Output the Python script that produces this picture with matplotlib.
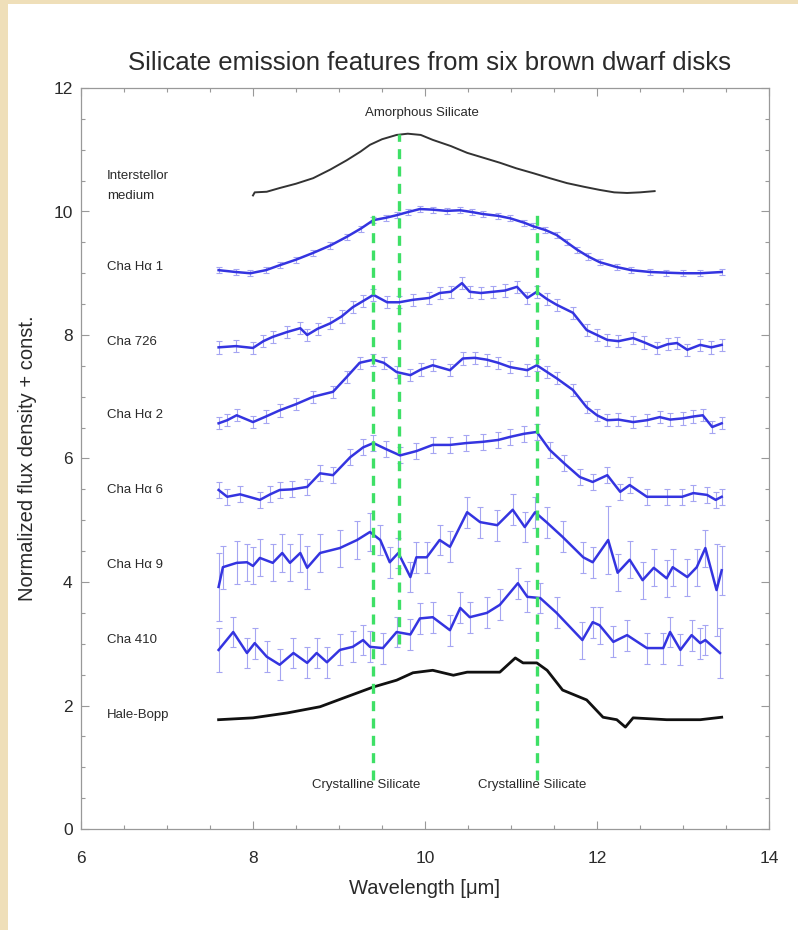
import matplotlib
matplotlib.use("Agg")
import matplotlib.pyplot as plt
from matplotlib.patches import Rectangle
from matplotlib.ticker import MultipleLocator

plt.rcParams['font.family'] = ['Liberation Sans', 'DejaVu Sans']

# ---------------- data ----------------
title = "Silicate emission features from six brown dwarf disks"
xlabel = "Wavelength [μm]"
ylabel = "Normalized flux density + const."
xticks = [6, 8, 10, 12, 14]
yticks = [0, 2, 4, 6, 8, 10, 12]

ism_x = [8.00, 8.02, 8.16, 8.31, 8.50, 8.70, 8.90, 9.09, 9.25, 9.36,
         9.50, 9.67, 9.80, 9.95, 10.09, 10.30, 10.49, 10.68, 10.87, 11.06,
         11.26, 11.45, 11.65, 11.85, 12.03, 12.20, 12.35, 12.50, 12.67]
ism_y = [10.26, 10.31, 10.32, 10.38, 10.45, 10.54, 10.68, 10.83, 10.97, 11.08,
         11.17, 11.24, 11.26, 11.24, 11.16, 11.06, 10.95, 10.87, 10.79, 10.70,
         10.62, 10.54, 10.46, 10.40, 10.35, 10.31, 10.30, 10.31, 10.33]

ha1_x = [7.60, 7.80, 7.97, 8.15, 8.31, 8.50, 8.70, 8.90, 9.09, 9.25,
         9.40, 9.55, 9.67, 9.80, 9.94, 10.09, 10.25, 10.41, 10.55, 10.67,
         10.85, 10.99, 11.15, 11.26, 11.40, 11.53, 11.65, 11.77, 11.90, 12.03,
         12.23, 12.40, 12.62, 12.80, 13.00, 13.20, 13.45]
ha1_y = [9.05, 9.02, 9.00, 9.05, 9.13, 9.22, 9.33, 9.45, 9.59, 9.72,
         9.86, 9.90, 9.94, 9.99, 10.04, 10.03, 10.01, 10.02, 9.99, 9.96,
         9.93, 9.89, 9.82, 9.76, 9.70, 9.62, 9.50, 9.38, 9.27, 9.18,
         9.10, 9.05, 9.02, 9.01, 9.00, 9.00, 9.02]
ha1_err = 0.05

c726_x = [7.60, 7.80, 8.00, 8.12, 8.23, 8.40, 8.55, 8.63, 8.75, 8.90,
          9.03, 9.16, 9.28, 9.40, 9.56, 9.70, 9.86, 10.05, 10.17, 10.30,
          10.43, 10.52, 10.65, 10.79, 10.93, 11.07, 11.19, 11.30, 11.42, 11.53,
          11.72, 11.88, 12.00, 12.12, 12.25, 12.42, 12.55, 12.70, 12.82, 12.93,
          13.05, 13.20, 13.33, 13.45]
c726_y = [7.80, 7.82, 7.79, 7.90, 7.97, 8.05, 8.11, 8.00, 8.10, 8.19,
          8.30, 8.45, 8.55, 8.65, 8.53, 8.53, 8.57, 8.60, 8.68, 8.70,
          8.84, 8.70, 8.68, 8.70, 8.72, 8.78, 8.60, 8.70, 8.58, 8.49,
          8.36, 8.08, 8.00, 7.92, 7.90, 7.95, 7.88, 7.79, 7.85, 7.87,
          7.76, 7.84, 7.80, 7.84]
c726_err = 0.1

ha2_x = [7.60, 7.70, 7.81, 8.00, 8.15, 8.31, 8.50, 8.70, 8.93, 9.09,
         9.24, 9.40, 9.52, 9.67, 9.83, 9.95, 10.09, 10.29, 10.44, 10.58,
         10.72, 10.85, 10.99, 11.19, 11.30, 11.42, 11.53, 11.72, 11.88, 12.00,
         12.12, 12.25, 12.42, 12.58, 12.73, 12.85, 13.00, 13.12, 13.23, 13.34,
         13.45]
ha2_y = [6.57, 6.62, 6.70, 6.59, 6.68, 6.78, 6.88, 7.00, 7.08, 7.32,
         7.55, 7.60, 7.55, 7.40, 7.35, 7.44, 7.51, 7.43, 7.62, 7.63,
         7.60, 7.55, 7.48, 7.43, 7.51, 7.40, 7.30, 7.11, 6.83, 6.70,
         6.62, 6.63, 6.59, 6.62, 6.67, 6.63, 6.65, 6.68, 6.70, 6.51,
         6.57]
ha2_err = 0.1

ha6_x = [7.60, 7.70, 7.85, 8.08, 8.20, 8.31, 8.45, 8.63, 8.78, 8.93,
         9.13, 9.28, 9.40, 9.55, 9.71, 9.90, 10.09, 10.29, 10.48, 10.67,
         10.85, 10.99, 11.15, 11.30, 11.45, 11.62, 11.80, 11.95, 12.12, 12.27,
         12.38, 12.58, 12.81, 12.99, 13.12, 13.28, 13.38, 13.45]
ha6_y = [5.49, 5.38, 5.42, 5.33, 5.42, 5.49, 5.50, 5.54, 5.76, 5.73,
         6.02, 6.18, 6.25, 6.15, 6.05, 6.12, 6.22, 6.22, 6.25, 6.27,
         6.30, 6.35, 6.40, 6.43, 6.14, 5.92, 5.70, 5.62, 5.73, 5.46,
         5.57, 5.38, 5.38, 5.38, 5.44, 5.41, 5.33, 5.38]
ha6_err = 0.13

ha9_x = [7.60, 7.65, 7.81, 7.93, 8.00, 8.08, 8.23, 8.34, 8.43, 8.55,
         8.63, 8.78, 9.01, 9.21, 9.36, 9.48, 9.59, 9.69, 9.83, 9.90,
         10.02, 10.17, 10.29, 10.49, 10.64, 10.84, 11.02, 11.16, 11.28, 11.42,
         11.60, 11.84, 11.95, 12.13, 12.24, 12.38, 12.53, 12.66, 12.81, 12.88,
         13.05, 13.16, 13.26, 13.39, 13.45]
ha9_y = [3.92, 4.24, 4.31, 4.32, 4.26, 4.39, 4.31, 4.47, 4.31, 4.47,
         4.23, 4.47, 4.55, 4.68, 4.81, 4.68, 4.32, 4.47, 4.08, 4.40,
         4.40, 4.68, 4.57, 5.13, 4.97, 4.92, 5.17, 4.89, 5.13, 4.96,
         4.73, 4.40, 4.32, 4.68, 4.15, 4.36, 4.03, 4.23, 4.06, 4.24,
         4.08, 4.24, 4.55, 3.87, 4.19]
ha9_err = [0.55, 0.35, 0.35, 0.30, 0.30, 0.30, 0.30, 0.30, 0.30, 0.30,
           0.35, 0.30, 0.30, 0.30, 0.30, 0.25, 0.25, 0.25, 0.25, 0.25,
           0.25, 0.25, 0.25, 0.25, 0.25, 0.25, 0.25, 0.25, 0.25, 0.25,
           0.25, 0.25, 0.25, 0.55, 0.30, 0.30, 0.30, 0.30, 0.30, 0.30,
           0.30, 0.30, 0.30, 0.75, 0.40]

c410_x = [7.60, 7.77, 7.93, 8.02, 8.16, 8.31, 8.47, 8.63, 8.74, 8.86,
          9.01, 9.16, 9.28, 9.36, 9.51, 9.67, 9.83, 9.94, 10.09, 10.29,
          10.41, 10.52, 10.72, 10.87, 11.08, 11.19, 11.34, 11.53, 11.83, 11.95,
          12.03, 12.19, 12.35, 12.58, 12.77, 12.85, 12.97, 13.10, 13.20, 13.26,
          13.43]
c410_y = [2.90, 3.19, 2.85, 3.01, 2.79, 2.66, 2.85, 2.69, 2.85, 2.70,
          2.90, 2.95, 3.06, 2.95, 2.93, 3.19, 3.15, 3.41, 3.43, 3.22,
          3.58, 3.43, 3.50, 3.63, 3.98, 3.76, 3.74, 3.50, 3.06, 3.35,
          3.30, 3.03, 3.14, 2.93, 2.93, 3.19, 2.90, 3.14, 3.01, 3.06,
          2.85]
c410_err = [0.35, 0.25, 0.25, 0.25, 0.25, 0.25, 0.25, 0.25, 0.25, 0.25,
            0.25, 0.25, 0.25, 0.25, 0.25, 0.25, 0.25, 0.25, 0.25, 0.25,
            0.25, 0.25, 0.25, 0.25, 0.25, 0.25, 0.25, 0.25, 0.30, 0.25,
            0.30, 0.25, 0.25, 0.25, 0.25, 0.25, 0.25, 0.25, 0.25, 0.25,
            0.40]

hb_x = [7.60, 8.00, 8.40, 8.78, 9.05, 9.40, 9.67, 9.86, 10.09, 10.33,
        10.49, 10.87, 11.05, 11.14, 11.30, 11.42, 11.60, 11.88, 12.07, 12.23,
        12.33, 12.42, 12.81, 13.20, 13.45]
hb_y = [1.77, 1.80, 1.88, 1.98, 2.12, 2.30, 2.41, 2.53, 2.57, 2.49,
        2.54, 2.54, 2.77, 2.69, 2.69, 2.57, 2.25, 2.09, 1.81, 1.77,
        1.65, 1.80, 1.77, 1.77, 1.81]

# vertical feature markers: x, ymin, ymax
feat_x = [9.4, 9.7, 11.3]
feat_ymin = [0.8, 3.0, 0.8]
feat_ymax = [9.95, 11.25, 9.95]

names = ["Interstellor\nmedium", "Cha Hα 1", "Cha 726", "Cha Hα 2",
         "Cha Hα 6", "Cha Hα 9", "Cha 410", "Hale-Bopp"]
name_y = [10.42, 9.10, 7.89, 6.70, 5.49, 4.28, 3.06, 1.85]
name_x = 6.30

annot = ["Amorphous Silicate", "Crystalline Silicate", "Crystalline Silicate"]
annot_x = [9.97, 9.32, 11.25]
annot_y = [11.60, 0.72, 0.72]

# ---------------- figure ----------------
W, H = 798, 930
fig = plt.figure(figsize=(W / 100, H / 100), dpi=100)
fig.patch.set_facecolor('#efdfb9')
fig.patches.append(Rectangle((8 / W, 0), 1, 1 - 4 / H, transform=fig.transFigure,
                             facecolor='white', edgecolor='none', zorder=-5))

ax = fig.add_axes([81 / W, 1 - 829 / H, (769 - 81) / W, (829 - 88) / H])
ax.set_zorder(1)
ax.set_facecolor('white')
ax.set_xlim(6, 14)
ax.set_ylim(0, 12)

tc = '#2a2a2a'
blue = '#3434e0'
ebc = '#a5a5f2'

ax.plot(ism_x, ism_y, color='#333333', lw=1.4, zorder=3)

for xs, ys, es in [(ha1_x, ha1_y, ha1_err), (c726_x, c726_y, c726_err),
                   (ha2_x, ha2_y, ha2_err), (ha6_x, ha6_y, ha6_err),
                   (ha9_x, ha9_y, ha9_err), (c410_x, c410_y, c410_err)]:
    ax.errorbar(xs, ys, yerr=es, fmt='none', ecolor=ebc, elinewidth=0.8,
                capsize=2.2, capthick=0.8, zorder=2)
    ax.plot(xs, ys, color=blue, lw=1.8, zorder=4)

ax.plot(hb_x, hb_y, color='#111111', lw=2.0, zorder=4)

for fx, y0, y1 in zip(feat_x, feat_ymin, feat_ymax):
    ax.plot([fx, fx], [y0, y1], color='#3ee066', lw=2.4,
            linestyle=(0, (3, 2.2)), zorder=5)

for n, ny in zip(names, name_y):
    ax.text(name_x, ny, n, ha='left', va='center', fontsize=9.5, color=tc,
            linespacing=1.9)

for a, axx, ayy in zip(annot, annot_x, annot_y):
    ax.text(axx, ayy, a, ha='center', va='center', fontsize=9.5, color=tc)

ax.set_xticks(xticks)
ax.set_yticks(yticks)
ax.xaxis.set_minor_locator(MultipleLocator(0.5))
ax.yaxis.set_minor_locator(MultipleLocator(0.5))
ax.tick_params(which='both', direction='in', top=True, right=True,
               color='#999999', width=0.8)
ax.tick_params(which='major', length=6)
ax.tick_params(which='minor', length=3)
ax.tick_params(axis='x', which='major', pad=16, labelsize=12.5, labelcolor=tc)
ax.tick_params(axis='y', which='major', pad=6, labelsize=12.5, labelcolor=tc)
for s in ax.spines.values():
    s.set_color('#999999')
    s.set_linewidth(0.9)

ax.set_xlabel(xlabel, fontsize=14.5, color=tc, labelpad=9)
ax.set_ylabel(ylabel, fontsize=14.5, color=tc, labelpad=12)
fig.text(430 / W, 1 - 63 / H, title, ha='center', va='center', fontsize=18.5,
         color=tc)

fig.savefig('out.png', dpi=100, facecolor=fig.get_facecolor())
